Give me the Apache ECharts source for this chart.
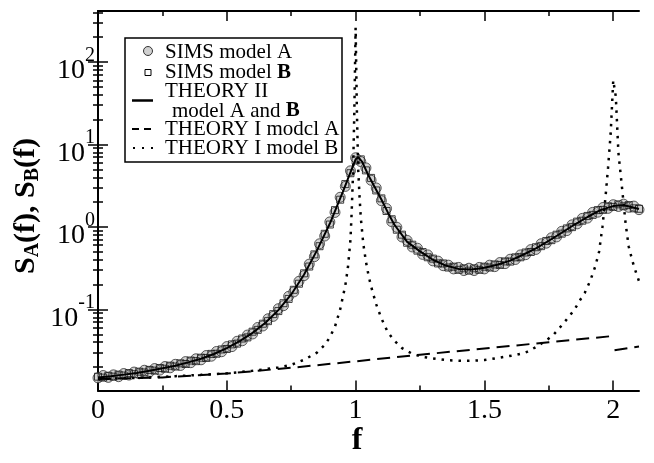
<!DOCTYPE html>
<html><head><meta charset="utf-8">
<script src="https://cdn.jsdelivr.net/npm/echarts@6/dist/echarts.min.js"></script>
<style>html,body{margin:0;padding:0;background:#fff}#c{width:654px;height:463px}</style>
</head><body><div id="c"></div>
<script>
// ---- data ----
const fGrid = [0,0.02,0.04,0.06,0.08,0.10,0.12,0.14,0.16,0.18,0.20,0.22,0.24,0.26,0.28,0.30,0.32,0.34,0.36,0.38,0.40,0.42,0.44,0.46,0.48,0.50,0.52,0.54,0.56,0.58,0.60,0.62,0.64,0.66,0.68,0.70,0.72,0.74,0.76,0.78,0.80,0.82,0.84,0.86,0.88,0.90,0.92,0.94,0.96,0.98,1.00,1.02,1.04,1.06,1.08,1.10,1.12,1.14,1.16,1.18,1.20,1.22,1.24,1.26,1.28,1.30,1.32,1.34,1.36,1.38,1.40,1.42,1.44,1.46,1.48,1.50,1.52,1.54,1.56,1.58,1.60,1.62,1.64,1.66,1.68,1.70,1.72,1.74,1.76,1.78,1.80,1.82,1.84,1.86,1.88,1.90,1.92,1.94,1.96,1.98,2.00,2.02,2.04,2.06,2.08,2.10];
const simsA = [0.0148,0.0158,0.0150,0.0161,0.0153,0.0167,0.0160,0.0174,0.0166,0.0183,0.0175,0.0192,0.0184,0.0203,0.0196,0.0216,0.0209,0.0233,0.0226,0.0252,0.0245,0.0276,0.0271,0.0309,0.0307,0.0354,0.0354,0.0411,0.0417,0.0489,0.0504,0.0604,0.0630,0.0770,0.0824,0.102,0.111,0.144,0.163,0.219,0.257,0.354,0.436,0.625,0.776,1.15,1.50,2.29,3.10,4.79,6.9,6.2,5.2,3.68,2.97,2.08,1.67,1.16,0.99,0.756,0.687,0.572,0.552,0.465,0.458,0.388,0.385,0.339,0.344,0.310,0.323,0.296,0.316,0.296,0.323,0.310,0.344,0.330,0.370,0.359,0.406,0.403,0.458,0.461,0.531,0.534,0.625,0.636,0.739,0.757,0.885,0.903,1.06,1.09,1.27,1.28,1.50,1.51,1.72,1.68,1.86,1.77,1.89,1.73,1.79,1.62];
const simsB = [0.0153,0.0149,0.0157,0.0153,0.0162,0.0158,0.0169,0.0164,0.0176,0.0172,0.0185,0.0181,0.0195,0.0191,0.0208,0.0203,0.0222,0.0218,0.0240,0.0236,0.0260,0.0258,0.0289,0.0290,0.0327,0.0331,0.0377,0.0385,0.0444,0.0458,0.0537,0.0565,0.0671,0.0721,0.0877,0.0955,0.119,0.134,0.173,0.205,0.274,0.331,0.465,0.584,0.826,1.07,1.60,2.14,3.31,4.48,6.4,6.6,4.85,3.93,2.77,2.22,1.56,1.24,0.925,0.806,0.643,0.609,0.516,0.496,0.429,0.413,0.361,0.361,0.322,0.330,0.302,0.315,0.295,0.315,0.302,0.330,0.322,0.351,0.346,0.382,0.380,0.428,0.429,0.490,0.497,0.568,0.585,0.676,0.692,0.805,0.829,0.960,0.995,1.16,1.19,1.36,1.40,1.60,1.61,1.78,1.75,1.88,1.78,1.84,1.68,1.66];
const theoryIIF = [0,0.05,0.1,0.15,0.2,0.25,0.3,0.35,0.4,0.45,0.5,0.55,0.6,0.65,0.7,0.75,0.8,0.85,0.9,0.925,0.95,0.975,1.0,1.01,1.025,1.05,1.075,1.1,1.125,1.15,1.2,1.25,1.3,1.35,1.4,1.45,1.5,1.55,1.6,1.65,1.7,1.75,1.8,1.85,1.9,1.95,2.0,2.03,2.05,2.1];
const theoryIIV = [0.0150,0.0155,0.0162,0.0170,0.0180,0.0193,0.0208,0.0228,0.0252,0.0288,0.0340,0.0412,0.0520,0.0690,0.0980,0.152,0.265,0.52,1.10,1.70,2.65,4.20,6.60,7.00,6.20,4.20,3.00,2.15,1.50,1.07,0.66,0.505,0.40,0.34,0.31,0.304,0.32,0.348,0.39,0.46,0.55,0.68,0.85,1.07,1.32,1.60,1.79,1.83,1.81,1.65];
const theoryIAF = [0,0.25,0.5,0.75,1.0,1.25,1.5,1.75,1.995,2.0,2.005,2.1];
const theoryIAV = [0.0143,0.0150,0.0167,0.0196,0.0235,0.0282,0.0336,0.0400,0.0475,'-',0.0320,0.0355];
const theoryIBF = [0,0.1,0.2,0.3,0.4,0.5,0.6,0.7,0.75,0.8,0.85,0.88,0.9,0.92,0.94,0.96,0.97,0.98,0.985,0.99,0.995,1.0,1.005,1.01,1.015,1.02,1.03,1.04,1.05,1.06,1.08,1.1,1.125,1.15,1.18,1.22,1.26,1.3,1.36,1.42,1.5,1.56,1.62,1.66,1.7,1.74,1.77,1.8,1.83,1.85,1.87,1.89,1.91,1.93,1.945,1.958,1.97,1.98,1.99,2.0,2.01,2.02,2.035,2.048,2.06,2.075,2.09,2.1];
const theoryIBV = [0.0143,0.0146,0.0150,0.0155,0.0161,0.0168,0.0180,0.0198,0.0213,0.0245,0.0300,0.0370,0.0460,0.0620,0.100,0.195,0.320,0.70,1.6,4.5,25,260,25,5.0,2.4,1.3,0.62,0.38,0.26,0.19,0.115,0.078,0.053,0.042,0.034,0.029,0.0265,0.0255,0.0242,0.0237,0.0243,0.0260,0.0280,0.0300,0.0350,0.0420,0.050,0.064,0.083,0.100,0.128,0.160,0.22,0.33,0.50,1.0,2.3,5.3,13.5,60,38,8.0,2.8,1.1,0.58,0.38,0.27,0.22];
const xMajor = [0,0.5,1,1.5,2];
const xMinor = [0.25,0.75,1.25,1.75];
const yMajor = [0.1,1,10,100];
const yMinor = [0.02,0.03,0.04,0.05,0.06,0.07,0.08,0.09,0.2,0.3,0.4,0.5,0.6,0.7,0.8,0.9,2,3,4,5,6,7,8,9,20,30,40,50,60,70,80,90,200,300,400];

// ---- chart ----
const SERIF = "'Liberation Serif','DejaVu Serif',serif";
const zip = (a, b) => a.map((x, i) => [x, b[i]]);
const X_MIN = 0, X_MAX = 2.1, Y_MIN = 0.0104, Y_MAX = 415;
const line = {show: true, lineStyle: {color: '#000', width: 2}};
function xAx(pos, vals, len, labels) {
  return {type: 'value', min: X_MIN, max: X_MAX, position: pos,
    axisLine: labels !== null ? line : {show: false},
    splitLine: {show: false},
    axisTick: {show: true, inside: true, length: len, customValues: vals, lineStyle: {color: '#000', width: 1.5}},
    axisLabel: labels ? {show: true, customValues: vals, margin: 6, color: '#000', fontFamily: SERIF, fontSize: 28,
      formatter: v => String(v)} : {show: false}};
}
function yAx(pos, vals, len, labels) {
  return {type: 'log', logBase: 10, min: Y_MIN, max: Y_MAX, position: pos,
    axisLine: labels !== null ? line : {show: false},
    splitLine: {show: false},
    axisTick: {show: true, inside: true, length: len, customValues: vals, lineStyle: {color: '#000', width: 1.5}},
    axisLabel: labels ? {show: true, customValues: vals, margin: 3, color: '#000',
      formatter: v => '{b|10}{s|' + Math.round(Math.log10(v)) + '}',
      rich: {b: {fontFamily: SERIF, fontSize: 28, color: '#000', padding: [18, 0, 0, 0]},
             s: {fontFamily: SERIF, fontSize: 20, color: '#000', padding: [0, 0, 13, 0]}}} : {show: false}};
}
const chart = echarts.init(document.getElementById('c'), null, {renderer: 'canvas'});
const lx = 165, ls = 21;
const legendText = (y, rich, x) => ({type: 'text', x: x || lx, y: y, style: {text: rich, fontFamily: SERIF, fontSize: ls, fill: '#000', verticalAlign: 'middle',
  rich: {r: {fontFamily: SERIF, fontSize: ls, fill: '#000'}, bb: {fontFamily: SERIF, fontSize: ls, fontWeight: 'bold', fill: '#000'}}}, z: 101});
chart.setOption({
  animation: false,
  backgroundColor: '#fff',
  grid: {left: 98, top: 11, width: 541, height: 379.5, containLabel: false},
  xAxis: [xAx('bottom', xMajor, 10, true), xAx('bottom', xMinor, 5, null), xAx('top', xMajor, 10, false), xAx('top', xMinor, 5, null)],
  yAxis: [yAx('left', yMajor, 10, true), yAx('left', yMinor, 5, null), yAx('right', yMajor, 10, false), yAx('right', yMinor, 5, null)],
  series: [
    {name: 'SIMS model A', type: 'scatter', data: zip(fGrid, simsA), symbol: 'circle', symbolSize: 10,
      itemStyle: {color: '#c8c8c8', borderColor: '#333', borderWidth: 1}, z: 2},
    {name: 'SIMS model B', type: 'scatter', data: zip(fGrid, simsB), symbol: 'rect', symbolSize: 7,
      itemStyle: {color: 'rgba(255,255,255,0)', borderColor: '#111', borderWidth: 1}, z: 3},
    {name: 'THEORY II', type: 'line', data: zip(theoryIIF, theoryIIV), showSymbol: false, symbol: 'none',
      lineStyle: {color: '#000', width: 2}, z: 4},
    {name: 'THEORY I modcl A', type: 'line', data: zip(theoryIAF, theoryIAV), showSymbol: false, symbol: 'none', connectNulls: false,
      lineStyle: {color: '#000', width: 2, type: [13, 7]}, z: 4},
    {name: 'THEORY I model B', type: 'line', data: zip(theoryIBF, theoryIBV), showSymbol: false, symbol: 'none',
      lineStyle: {color: '#000', width: 2.5, type: [2.5, 6]}, z: 4}
  ],
  graphic: [
    {type: 'rect', shape: {x: 125, y: 38, width: 217, height: 124}, style: {fill: '#fff', stroke: '#000', lineWidth: 1.5}, z: 100},
    {type: 'circle', shape: {cx: 148, cy: 51, r: 4.5}, style: {fill: '#d0d0d0', stroke: '#333', lineWidth: 1}, z: 101},
    {type: 'rect', shape: {x: 145, y: 69.5, width: 6, height: 6}, style: {fill: '#fff', stroke: '#000', lineWidth: 1}, z: 101},
    {type: 'line', shape: {x1: 132, y1: 100.5, x2: 153, y2: 100.5}, style: {stroke: '#000', lineWidth: 2.5}, z: 101},
    {type: 'line', shape: {x1: 132, y1: 129, x2: 153, y2: 129}, style: {stroke: '#000', lineWidth: 2, lineDash: [7, 5]}, z: 101},
    {type: 'line', shape: {x1: 133, y1: 148, x2: 153, y2: 148}, style: {stroke: '#000', lineWidth: 2, lineDash: [2, 7]}, z: 101},
    legendText(52.7, '{r|SIMS model A}'),
    legendText(72.3, '{r|SIMS model }{bb|B}'),
    legendText(91.7, '{r|THEORY II}'),
    legendText(111, '{r|model A and }{bb|B}', 172),
    legendText(129.3, '{r|THEORY I modcl A}'),
    legendText(148.3, '{r|THEORY I model B}'),
    {type: 'text', x: 357, y: 441, style: {text: 'f', fontFamily: SERIF, fontSize: 32, fontWeight: 'bold', fill: '#000', align: 'center', verticalAlign: 'middle'}, z: 101},
    {type: 'text', x: 26, y: 206, rotation: Math.PI / 2,
      style: {text: '{m|S}{sub|A}{m|(f), S}{sub|B}{m|(f)}', align: 'center', verticalAlign: 'middle', fill: '#000',
        rich: {m: {fontFamily: SERIF, fontSize: 30, fontWeight: 'bold', fill: '#000'},
               sub: {fontFamily: SERIF, fontSize: 20, fontWeight: 'bold', fill: '#000', padding: [13, 0, 0, 0]}}}, z: 101}
  ]
});
</script>
</body></html>
